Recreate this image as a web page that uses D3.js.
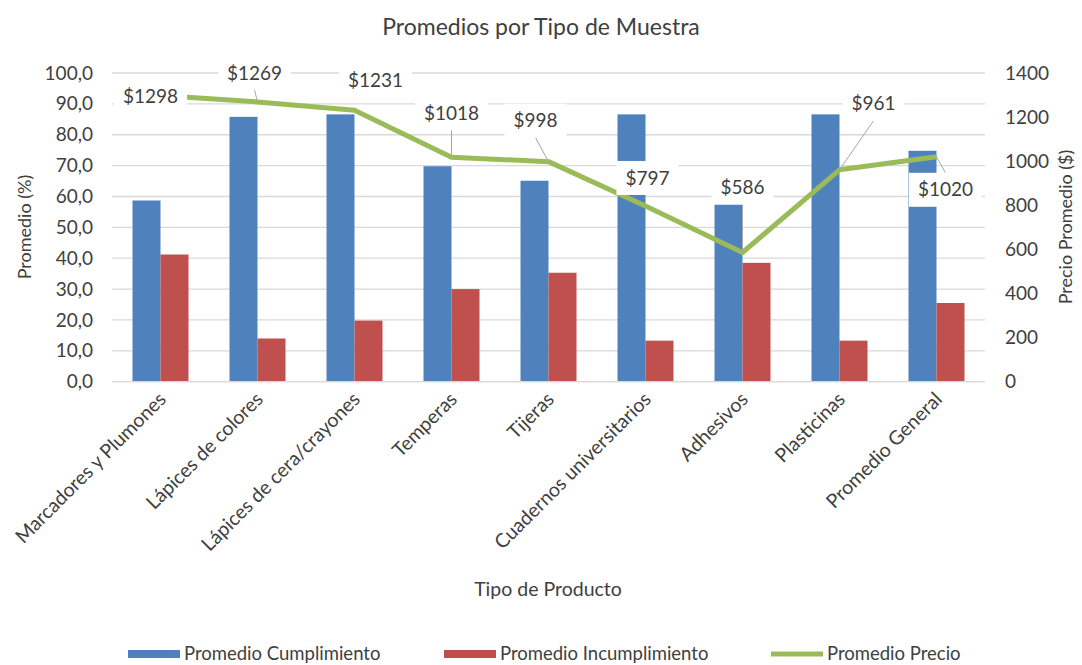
<!DOCTYPE html>
<html>
<head>
<meta charset="utf-8">
<script src="https://cdn.jsdelivr.net/npm/d3@7"></script>
<style>
  body { margin: 0; background: #fff; }
  svg text { font-family: Lato, "Open Sans", sans-serif; fill: #404040; }
</style>
</head>
<body>
<div id="chart"></div>
<script>
// data
var categories = ["Marcadores y Plumones", "Lápices de colores", "Lápices de cera/crayones",
  "Temperas", "Tijeras", "Cuadernos universitarios", "Adhesivos", "Plasticinas", "Promedio General"];
var cumplimiento = [58.7, 85.8, 86.6, 69.8, 65.1, 86.6, 57.4, 86.6, 74.8];
var incumplimiento = [41.2, 14.0, 19.8, 30.0, 35.3, 13.3, 38.5, 13.3, 25.5];
var precio = [1298, 1269, 1231, 1018, 998, 797, 586, 961, 1020];
var leftTicks = [0, 10, 20, 30, 40, 50, 60, 70, 80, 90, 100];
var rightTicks = [0, 200, 400, 600, 800, 1000, 1200, 1400];

// where Excel moved each price label, relative to its point
var labelOffsets = [[-10, 1], [-3, -29], [21, -30], [0, -44], [-13, -41], [2, -28], [0, -65], [34, -66], [9, 33]];
var hasLeader = [false, true, false, true, true, false, true, true, true];

var opt = {
  width: 1082, height: 665,
  left: 112, right: 985, top: 73, bottom: 381.7,
  blue: "#4f81bd", red: "#c0504d", green: "#9bbb59", grid: "#d9d9d9"
};

var svg = d3.select("#chart").append("svg")
  .attr("width", opt.width)
  .attr("height", opt.height);

var x = d3.scaleBand().domain(categories).range([opt.left, opt.right]).padding(0);
var bw = 28;
var series = d3.scaleBand().domain(["c", "i"])
  .range([x.bandwidth() / 2 - bw, x.bandwidth() / 2 + bw]).padding(0);
var y = d3.scaleLinear().domain([0, 100]).range([opt.bottom, opt.top]);
var y2 = d3.scaleLinear().domain([0, 1400]).range([opt.bottom, opt.top]);
var fmt = function(d) { return d3.format(".1f")(d).replace(".", ","); };

// gridlines
svg.append("g").selectAll("line")
  .data(leftTicks)
  .enter().append("line")
    .attr("x1", opt.left).attr("x2", opt.right)
    .attr("y1", d => y(d)).attr("y2", d => y(d))
    .attr("stroke", opt.grid).attr("stroke-width", 1.3);

// left axis
var gl = svg.append("g")
  .attr("transform", `translate(${opt.left},0)`)
  .call(d3.axisLeft(y).tickValues(leftTicks).tickFormat(fmt).tickSize(0).tickPadding(19));
gl.select(".domain").remove();
gl.selectAll("text").style("font-size", "19px").attr("fill", "#404040");

// right axis
var gr = svg.append("g")
  .attr("transform", `translate(${opt.right},0)`)
  .call(d3.axisRight(y2).tickValues(rightTicks).tickFormat(d3.format("d")).tickSize(0).tickPadding(20));
gr.select(".domain").remove();
gr.selectAll("text").style("font-size", "19px").attr("fill", "#404040");

// bars
var groups = svg.append("g").selectAll("g")
  .data(categories)
  .enter().append("g")
    .attr("transform", d => `translate(${x(d)},0)`);
groups.append("rect")
  .attr("x", series("c")).attr("width", series.bandwidth())
  .attr("y", (d, i) => y(cumplimiento[i]))
  .attr("height", (d, i) => y(0) - y(cumplimiento[i]))
  .attr("fill", opt.blue);
groups.append("rect")
  .attr("x", series("i")).attr("width", series.bandwidth())
  .attr("y", (d, i) => y(incumplimiento[i]))
  .attr("height", (d, i) => y(0) - y(incumplimiento[i]))
  .attr("fill", opt.red);

// x axis baseline
svg.append("line")
  .attr("x1", opt.left).attr("x2", opt.right)
  .attr("y1", opt.bottom).attr("y2", opt.bottom)
  .attr("stroke", opt.grid).attr("stroke-width", 1.3);

// category labels
svg.append("g").selectAll("text")
  .data(categories)
  .enter().append("text")
    .attr("transform", d => `translate(${x(d) + x.bandwidth() / 2 + 2},${opt.bottom + 14}) rotate(-45)`)
    .attr("text-anchor", "end")
    .attr("dy", "0.35em")
    .style("font-size", "19.5px")
    .text(d => d);

// price line
var cx = d => x(d) + x.bandwidth() / 2;
var line = d3.line()
  .x((d, i) => cx(categories[i]))
  .y(d => y2(d));
svg.append("path")
  .datum(precio)
  .attr("d", line)
  .attr("fill", "none")
  .attr("stroke", opt.green)
  .attr("stroke-width", 5)
  .attr("stroke-linejoin", "round");

// data labels with leader lines
var lab = svg.append("g");
precio.forEach(function(v, i) {
  var px = cx(categories[i]), py = y2(v);
  var lx = px + labelOffsets[i][0], ly = py + labelOffsets[i][1];
  var t = lab.append("text")
    .attr("x", lx).attr("y", ly)
    .attr("text-anchor", "middle")
    .attr("dy", "0.35em")
    .style("font-size", "19px")
    .text("$" + v);
  var w = t.node().getComputedTextLength() + 18;
  if (hasLeader[i]) {
    var ey = ly < py ? ly + 17 : ly - 17;
    lab.insert("line", "text")
      .attr("x1", lx).attr("y1", ey)
      .attr("x2", px).attr("y2", py)
      .attr("stroke", "#a6a6a6").attr("stroke-width", 1);
  }
  lab.insert("rect", "text")
    .attr("x", lx - w / 2).attr("y", ly - 17)
    .attr("width", w).attr("height", 34)
    .attr("fill", "#fff");
});
// keep text above boxes
lab.selectAll("text").raise();

// titles
svg.append("text")
  .attr("x", 541).attr("y", 27)
  .attr("text-anchor", "middle").attr("dy", "0.35em")
  .style("font-size", "23px")
  .text("Promedios por Tipo de Muestra");
svg.append("text")
  .attr("transform", "translate(25,227) rotate(-90)")
  .attr("text-anchor", "middle").attr("dy", "0.35em")
  .style("font-size", "18px")
  .text("Promedio (%)");
svg.append("text")
  .attr("transform", "translate(1066,227) rotate(-90)")
  .attr("text-anchor", "middle").attr("dy", "0.35em")
  .style("font-size", "18px")
  .text("Precio Promedio ($)");
svg.append("text")
  .attr("x", 548).attr("y", 589)
  .attr("text-anchor", "middle").attr("dy", "0.35em")
  .style("font-size", "19.5px")
  .text("Tipo de Producto");

// legend
var legendItems = [
  {name: "Promedio Cumplimiento", color: opt.blue, x: 128, type: "rect"},
  {name: "Promedio Incumplimiento", color: opt.red, x: 444, type: "rect"},
  {name: "Promedio Precio", color: opt.green, x: 771, type: "line"}
];
var lg = svg.append("g").selectAll("g")
  .data(legendItems)
  .enter().append("g")
    .attr("transform", d => `translate(${d.x},654)`);
lg.filter(d => d.type === "rect").append("rect")
  .attr("x", 0).attr("y", -4).attr("width", 52).attr("height", 8)
  .attr("fill", d => d.color);
lg.filter(d => d.type === "line").append("line")
  .attr("x1", 0).attr("x2", 52).attr("y1", 0).attr("y2", 0)
  .attr("stroke", d => d.color).attr("stroke-width", 5);
lg.append("text")
  .attr("x", 56).attr("dy", "0.35em")
  .style("font-size", "18.5px")
  .text(d => d.name);
</script>
</body>
</html>
